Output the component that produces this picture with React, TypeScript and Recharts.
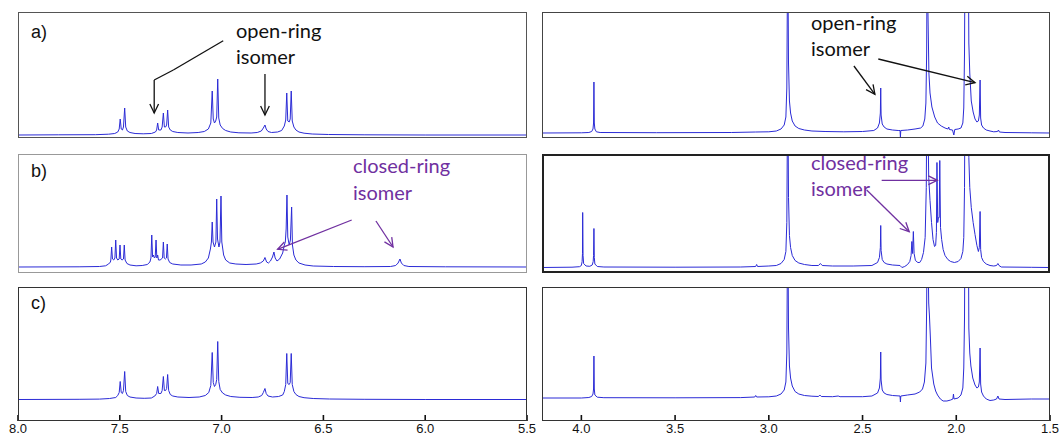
import { LineChart, Line, XAxis, YAxis, ReferenceLine } from 'recharts';

type Pt = [number, number];

// 1H NMR traces: [chemical shift ppm, intensity]; intensity in px above the trace baseline
const aromaticA: Pt[] = [
  [8.0, 0], [7.8, 0.2], [7.62, 0.3], [7.555, 0.8], [7.525, 1.5], [7.51, 3], [7.503, 6], [7.498, 16], [7.493, 6],
  [7.487, 5], [7.482, 8], [7.476, 27], [7.471, 8], [7.463, 4], [7.45, 2.5], [7.425, 1.5], [7.385, 1.2],
  [7.345, 1.5], [7.325, 3], [7.319, 5], [7.314, 12], [7.309, 5], [7.298, 5], [7.292, 8], [7.286, 22],
  [7.281, 8], [7.275, 8], [7.27, 10], [7.265, 25], [7.26, 8], [7.252, 5], [7.24, 3.5], [7.215, 2.5],
  [7.165, 2], [7.115, 2.5], [7.085, 3.5], [7.065, 6], [7.053, 12], [7.046, 44], [7.041, 16], [7.035, 12],
  [7.029, 14], [7.024, 18], [7.019, 56], [7.014, 17], [7.007, 10], [6.995, 6.5], [6.98, 4.5], [6.955, 3],
  [6.915, 2.2], [6.855, 2], [6.825, 2.5], [6.805, 4], [6.795, 7], [6.787, 10], [6.781, 6], [6.772, 3.5],
  [6.755, 2.5], [6.725, 3], [6.705, 4.5], [6.692, 9], [6.685, 15], [6.68, 42], [6.675, 14], [6.668, 13],
  [6.663, 16], [6.658, 44], [6.653, 14], [6.645, 8], [6.635, 5], [6.62, 3], [6.595, 1.8], [6.555, 1],
  [6.475, 0.5], [6.3, 0.2], [6.0, 0], [5.5, 0],
];

const aromaticB: Pt[] = [
  [8.0, 0], [7.7, 0.2], [7.6, 0.5], [7.57, 1.2], [7.555, 3], [7.546, 5], [7.544, 7], [7.54, 20], [7.536, 8],
  [7.53, 7], [7.524, 9], [7.52, 27], [7.516, 9], [7.51, 7], [7.503, 8], [7.499, 22], [7.495, 8], [7.489, 7],
  [7.482, 8], [7.478, 22], [7.474, 7], [7.465, 3.5], [7.45, 2], [7.42, 1.2], [7.39, 1.5], [7.365, 2.5],
  [7.352, 5], [7.347, 9], [7.343, 32], [7.339, 10], [7.335, 12], [7.33, 9], [7.326, 10], [7.322, 27],
  [7.318, 9], [7.314, 12], [7.31, 7], [7.302, 7], [7.29, 9], [7.286, 25], [7.282, 9], [7.276, 8],
  [7.271, 9], [7.267, 23], [7.263, 8], [7.255, 4.5], [7.24, 3], [7.2, 2], [7.15, 2], [7.1, 3], [7.08, 5],
  [7.065, 9], [7.055, 18], [7.05, 25], [7.046, 45], [7.042, 25], [7.035, 20], [7.028, 25], [7.024, 68],
  [7.02, 28], [7.013, 20], [7.008, 25], [7.003, 71], [6.999, 25], [6.99, 12], [6.98, 7], [6.96, 4],
  [6.93, 3], [6.88, 2.5], [6.83, 3], [6.81, 4], [6.795, 6], [6.787, 9.5], [6.779, 5], [6.77, 4], [6.76, 6],
  [6.75, 10], [6.743, 15], [6.737, 9], [6.728, 6], [6.715, 8], [6.7, 14], [6.692, 22], [6.687, 25],
  [6.683, 38], [6.679, 72], [6.675, 30], [6.668, 22], [6.662, 27], [6.656, 60], [6.652, 22], [6.645, 12],
  [6.635, 7], [6.62, 4], [6.59, 2], [6.55, 1], [6.45, 0.5], [6.3, 0.3], [6.17, 0.5], [6.145, 1.5],
  [6.133, 4], [6.124, 8], [6.117, 4], [6.105, 1.5], [6.08, 0.5], [5.9, 0.2], [5.5, 0],
];

const aromaticC: Pt[] = [
  [8.0, 0], [7.7, 0.2], [7.6, 0.4], [7.55, 1], [7.52, 2], [7.51, 4], [7.503, 7], [7.498, 18], [7.493, 7],
  [7.487, 6], [7.482, 9], [7.476, 28], [7.471, 8], [7.463, 4], [7.45, 2.5], [7.42, 1.5], [7.38, 1.2],
  [7.345, 1.5], [7.328, 3.5], [7.319, 6], [7.314, 13], [7.309, 6], [7.298, 6], [7.292, 9], [7.286, 23],
  [7.281, 9], [7.275, 9], [7.27, 11], [7.265, 25], [7.26, 9], [7.252, 5], [7.24, 3.5], [7.215, 2.5],
  [7.16, 2], [7.11, 2.5], [7.08, 4], [7.063, 7], [7.053, 14], [7.046, 47], [7.041, 17], [7.035, 13],
  [7.029, 15], [7.024, 20], [7.019, 58], [7.014, 18], [7.007, 10], [6.995, 6.5], [6.98, 4.5], [6.955, 3],
  [6.91, 2.2], [6.85, 2], [6.82, 2.5], [6.803, 4], [6.795, 7], [6.787, 11], [6.781, 6], [6.772, 3.5],
  [6.75, 2.5], [6.72, 3], [6.7, 4.5], [6.692, 8], [6.685, 15], [6.68, 46], [6.675, 16], [6.668, 15],
  [6.663, 17], [6.658, 46], [6.653, 15], [6.645, 8], [6.635, 5], [6.62, 3], [6.595, 1.8], [6.55, 1],
  [6.47, 0.5], [6.3, 0.2], [6.0, 0], [5.5, 0],
];

const aliphaticA: Pt[] = [
  [4.21, 0], [4.0, 0.2], [3.96, 0.5], [3.945, 1.5], [3.938, 4], [3.935, 10], [3.933, 51], [3.931, 10],
  [3.928, 4], [3.92, 1.2], [3.9, 0.5], [3.6, 0.3], [3.2, 0.5], [3.07, 1], [3.0, 1.2], [2.96, 2],
  [2.935, 4], [2.918, 8], [2.909, 16], [2.904, 45], [2.899, 200], [2.895, 70], [2.89, 32], [2.884, 20],
  [2.875, 12], [2.86, 7], [2.84, 4.5], [2.81, 3], [2.77, 2], [2.7, 1.5], [2.6, 1.2], [2.5, 1.5],
  [2.44, 2.5], [2.42, 5], [2.41, 10], [2.405, 20], [2.403, 45], [2.401, 18], [2.395, 9], [2.385, 6],
  [2.37, 4], [2.34, 3], [2.31, 2.5], [2.3, 2.5], [2.298, -4], [2.296, 2.5], [2.26, 3], [2.22, 4],
  [2.19, 5], [2.178, 7], [2.168, 14], [2.162, 30], [2.158, 80], [2.155, 200], [2.151, 120], [2.146, 60],
  [2.14, 40], [2.13, 26], [2.115, 16], [2.1, 10], [2.08, 7], [2.06, 5], [2.045, 4], [2.04, 6],
  [2.037, 3.5], [2.02, 3], [2.013, -2], [2.008, 3.5], [1.99, 4], [1.975, 5], [1.965, 10], [1.96, 25],
  [1.956, 80], [1.953, 200], [1.95, 130], [1.948, 200], [1.946, 140], [1.944, 200], [1.942, 140],
  [1.94, 200], [1.938, 130], [1.936, 200], [1.933, 90], [1.928, 60], [1.92, 32], [1.91, 21], [1.9, 14],
  [1.89, 11], [1.882, 12], [1.877, 18], [1.873, 53], [1.87, 15], [1.865, 8], [1.855, 5], [1.84, 3],
  [1.82, 2], [1.8, 1.2], [1.78, 1.5], [1.775, 3], [1.77, 1], [1.74, 0.5], [1.6, 0.2], [1.5, 0],
];

const aliphaticB: Pt[] = [
  [4.21, 0], [4.05, 0.3], [4.01, 0.8], [4.0, 2], [3.996, 6], [3.994, 14], [3.993, 55], [3.991, 12],
  [3.988, 4], [3.975, 1.5], [3.955, 1.2], [3.942, 2.5], [3.937, 6], [3.935, 12], [3.933, 39], [3.931, 10],
  [3.928, 3.5], [3.915, 1], [3.88, 0.5], [3.5, 0.3], [3.15, 0.5], [3.07, 1], [3.065, 3], [3.06, 1],
  [3.0, 1.5], [2.96, 2], [2.935, 4], [2.918, 8], [2.909, 16], [2.904, 45], [2.899, 200], [2.895, 70],
  [2.89, 32], [2.884, 20], [2.875, 12], [2.86, 7], [2.84, 4.5], [2.81, 3], [2.77, 2], [2.735, 2],
  [2.725, 4], [2.715, 2], [2.66, 1.5], [2.55, 1.5], [2.45, 2], [2.42, 5], [2.41, 10], [2.405, 20],
  [2.403, 42], [2.401, 17], [2.395, 8], [2.385, 5], [2.37, 3.5], [2.34, 2.5], [2.3, 2], [2.29, 0],
  [2.275, 1], [2.26, 3], [2.248, 6], [2.241, 12], [2.237, 26], [2.233, 14], [2.229, 36], [2.225, 14],
  [2.218, 7], [2.205, 5], [2.195, 5], [2.185, 8], [2.175, 15], [2.166, 30], [2.16, 80], [2.156, 200],
  [2.152, 160], [2.147, 90], [2.14, 67], [2.132, 45], [2.124, 28], [2.116, 21], [2.11, 22], [2.106, 35],
  [2.103, 105], [2.099, 45], [2.095, 50], [2.091, 50], [2.088, 107], [2.084, 40], [2.078, 28], [2.07, 18],
  [2.06, 12], [2.045, 8], [2.03, 6], [2.01, 5], [1.99, 6], [1.975, 9], [1.965, 16], [1.96, 30],
  [1.956, 80], [1.953, 200], [1.95, 130], [1.948, 200], [1.946, 140], [1.944, 200], [1.942, 140],
  [1.94, 200], [1.938, 130], [1.936, 200], [1.933, 110], [1.928, 80], [1.92, 60], [1.91, 45], [1.9, 33],
  [1.89, 22], [1.882, 16], [1.877, 20], [1.873, 56], [1.87, 18], [1.865, 10], [1.855, 6], [1.84, 3.5],
  [1.82, 2], [1.8, 1.5], [1.785, 2], [1.778, 4], [1.772, 2], [1.76, 0.5], [1.6, 0.2], [1.5, 0],
];

const aliphaticC: Pt[] = [
  [4.21, 0], [4.0, 0], [3.96, 0.5], [3.945, 1.5], [3.938, 4], [3.935, 9], [3.933, 42], [3.931, 9],
  [3.928, 3], [3.915, 0.8], [3.88, 0.3], [3.5, 0.2], [3.15, 0.4], [3.075, 1], [3.07, 2.5], [3.065, 1],
  [3.0, 1.2], [2.96, 2], [2.935, 4], [2.918, 8], [2.909, 16], [2.904, 45], [2.899, 200], [2.895, 70],
  [2.89, 32], [2.884, 20], [2.875, 12], [2.86, 6.5], [2.84, 4], [2.81, 2.5], [2.77, 1.8], [2.735, 1.5],
  [2.728, 3], [2.72, 1.5], [2.66, 1.3], [2.63, 2], [2.62, 1.3], [2.5, 1.3], [2.45, 2], [2.42, 5],
  [2.41, 10], [2.405, 20], [2.403, 46], [2.401, 18], [2.395, 8], [2.385, 5], [2.37, 3.5], [2.34, 2.5],
  [2.3, 2], [2.298, -4], [2.296, 2], [2.26, 3], [2.22, 4], [2.195, 6], [2.18, 9], [2.17, 16],
  [2.162, 35], [2.158, 90], [2.155, 200], [2.151, 150], [2.147, 95], [2.143, 82], [2.138, 60],
  [2.132, 30], [2.12, 14], [2.11, 7], [2.1, 3], [2.085, -1], [2.07, -3], [2.05, -3], [2.03, -2],
  [2.018, -1], [2.015, 4], [2.012, -1], [1.99, 0], [1.975, 3], [1.965, 10], [1.96, 30], [1.956, 80],
  [1.953, 200], [1.95, 130], [1.948, 200], [1.946, 140], [1.944, 200], [1.942, 140], [1.94, 200],
  [1.938, 130], [1.936, 200], [1.933, 70], [1.928, 45], [1.922, 32], [1.912, 20], [1.9, 13], [1.89, 10],
  [1.882, 11], [1.877, 16], [1.873, 50], [1.87, 14], [1.865, 6], [1.855, 2], [1.84, -1], [1.82, -2.5],
  [1.8, -2], [1.785, -1], [1.778, 2], [1.772, -1], [1.74, -1.5], [1.6, -1], [1.5, -1],
];

const aromaticTicks = [8.0, 7.5, 7.0, 6.5, 6.0, 5.5];
const aliphaticTicks = [4.0, 3.5, 3.0, 2.5, 2.0, 1.5];

// annotation arrows as polylines in (ppm, intensity); the last point is the arrow tip
const arrowsAromaticA: Pt[][] = [
  [[6.992, 94.3], [7.237, 65], [7.331, 55], [7.331, 22]],
  [[6.787, 61], [6.787, 20]],
];
const arrowsAliphaticA: Pt[][] = [
  [[2.546, 67], [2.434, 38.7]],
  [[2.416, 74], [1.9, 50.3]],
];
const arrowsAromaticB: Pt[][] = [
  [[6.361, 47], [6.725, 17.7]],
  [[6.242, 46], [6.158, 20]],
];
const arrowsAliphaticB: Pt[][] = [
  [[2.398, 87.2], [2.101, 87.2]],
  [[2.478, 77.5], [2.251, 35.8]],
];

const TRACE = '#2b2bd6';
const PURPLE = '#7030a0';
const NOTE_FONT = "Lato, 'Open Sans', sans-serif";
const AXIS_FONT = "'Liberation Sans', Arial, sans-serif";

const arrowShape = (color: string, head: boolean) => (p: any) => {
  const { x1, y1, x2, y2 } = p;
  const ang = Math.atan2(y2 - y1, x2 - x1);
  const len = 10;
  const spread = 0.45;
  const w1 = [x2 - len * Math.cos(ang - spread), y2 - len * Math.sin(ang - spread)];
  const w2 = [x2 - len * Math.cos(ang + spread), y2 - len * Math.sin(ang + spread)];
  return (
    <g>
      <line x1={x1} y1={y1} x2={x2} y2={y2} stroke={color} strokeWidth={1.3} />
      {head && (
        <polyline
          points={`${w1[0]},${w1[1]} ${x2},${y2} ${w2[0]},${w2[1]}`}
          fill="none"
          stroke={color}
          strokeWidth={1.3}
        />
      )}
    </g>
  );
};

const PpmTick = (props: any) => {
  const { x, y, payload } = props;
  return (
    <g>
      <line x1={x} x2={x} y1={y - 6} y2={y} stroke="#111" strokeWidth={1.6} />
      <text x={x} y={y + 12} textAnchor="middle" fontSize={13} fontFamily={AXIS_FONT} fill="#111">
        {Number(payload.value).toFixed(1)}
      </text>
    </g>
  );
};

interface PanelProps {
  data: Pt[];
  left: number;
  top: number;
  w: number;
  h: number;
  xDomain: [number, number];
  yDomain: [number, number];
  ticks?: number[];
  arrows?: Pt[][];
  arrowColor?: string;
  frame: string;
  frameWidth?: number;
}

const PAD = 12;

function Panel({ data, left, top, w, h, xDomain, yDomain, ticks, arrows = [], arrowColor = '#111', frame, frameWidth = 1.5 }: PanelProps) {
  const rows = data.map(([ppm, v]) => ({ ppm, v }));
  const axisH = ticks ? 16 : 0;
  const segments = arrows.flatMap((pts, i) =>
    pts.slice(1).map((p, j) => (
      <ReferenceLine
        key={`arrow-${i}-${j}`}
        segment={[{ x: pts[j][0], y: pts[j][1] }, { x: p[0], y: p[1] }]}
        ifOverflow="visible"
        shape={arrowShape(arrowColor, j === pts.length - 2)}
      />
    ))
  );

  return (
    <div style={{ position: 'absolute', left: left - PAD, top, width: w + 2 * PAD, height: h + axisH }}>
      <LineChart
        width={w + 2 * PAD}
        height={h + axisH}
        data={rows}
        margin={{ top: 0, right: PAD, bottom: 0, left: PAD }}
      >
        <XAxis
          type="number"
          dataKey="ppm"
          domain={xDomain}
          reversed
          allowDataOverflow
          hide={!ticks}
          ticks={ticks}
          interval={0}
          height={axisH}
          axisLine={false}
          tickLine={false}
          tickSize={0}
          tickMargin={0}
          tick={<PpmTick />}
        />
        <YAxis type="number" domain={yDomain} allowDataOverflow hide />
        <Line
          type="linear"
          dataKey="v"
          stroke={TRACE}
          strokeWidth={1}
          dot={false}
          activeDot={false}
          isAnimationActive={false}
        />
        {segments}
      </LineChart>
      <div
        style={{
          position: 'absolute',
          left: PAD,
          top: 0,
          width: w,
          height: h,
          boxSizing: 'border-box',
          border: `${frameWidth}px solid ${frame}`,
          pointerEvents: 'none',
        }}
      />
    </div>
  );
}

export default function App() {
  const L = { left: 18, w: 509, xDomain: [5.5, 8.0] as [number, number] };
  const R = { left: 542, w: 508, xDomain: [1.5, 4.21] as [number, number] };
  return (
    <div style={{ position: 'absolute', left: 0, top: 0, width: 1063, height: 437, background: '#fff' }}>
      <Panel data={aromaticA} {...L} top={12} h={126} yDomain={[-3, 123]} arrows={arrowsAromaticA} frame="#555" />
      <Panel data={aliphaticA} {...R} top={12} h={126} yDomain={[-5, 121]} arrows={arrowsAliphaticA} frame="#444" />
      <Panel data={aromaticB} {...L} top={154} h={119} yDomain={[-6, 113]} arrows={arrowsAromaticB} arrowColor={PURPLE} frame="#999" />
      <Panel data={aliphaticB} {...R} top={154} h={119} yDomain={[-5.5, 113.5]} arrows={arrowsAliphaticB} arrowColor={PURPLE} frame="#222" frameWidth={2} />
      <Panel data={aromaticC} {...L} top={287} h={134} yDomain={[-21.5, 112.5]} ticks={aromaticTicks} frame="#333" />
      <Panel data={aliphaticC} {...R} top={287} h={134} yDomain={[-23, 111]} ticks={aliphaticTicks} frame="#333" />

      <svg width={1063} height={437} style={{ position: 'absolute', left: 0, top: 0, pointerEvents: 'none' }}>
        <g fontFamily={AXIS_FONT} fontSize={18} fill="#111">
          <text x={31} y={38}>a)</text>
          <text x={31} y={177}>b)</text>
          <text x={31} y={309}>c)</text>
        </g>
        <g fontFamily={NOTE_FONT} fontSize={20} fill="#111">
          <text x={236} y={38}>open-ring</text>
          <text x={236} y={64}>isomer</text>
          <text x={811} y={30}>open-ring</text>
          <text x={811} y={56}>isomer</text>
        </g>
        <g fontFamily={NOTE_FONT} fontSize={20} fill={PURPLE}>
          <text x={353} y={173}>closed-ring</text>
          <text x={353} y={200}>isomer</text>
          <text x={811} y={170}>closed-ring</text>
          <text x={811} y={196}>isomer</text>
        </g>
      </svg>
    </div>
  );
}
